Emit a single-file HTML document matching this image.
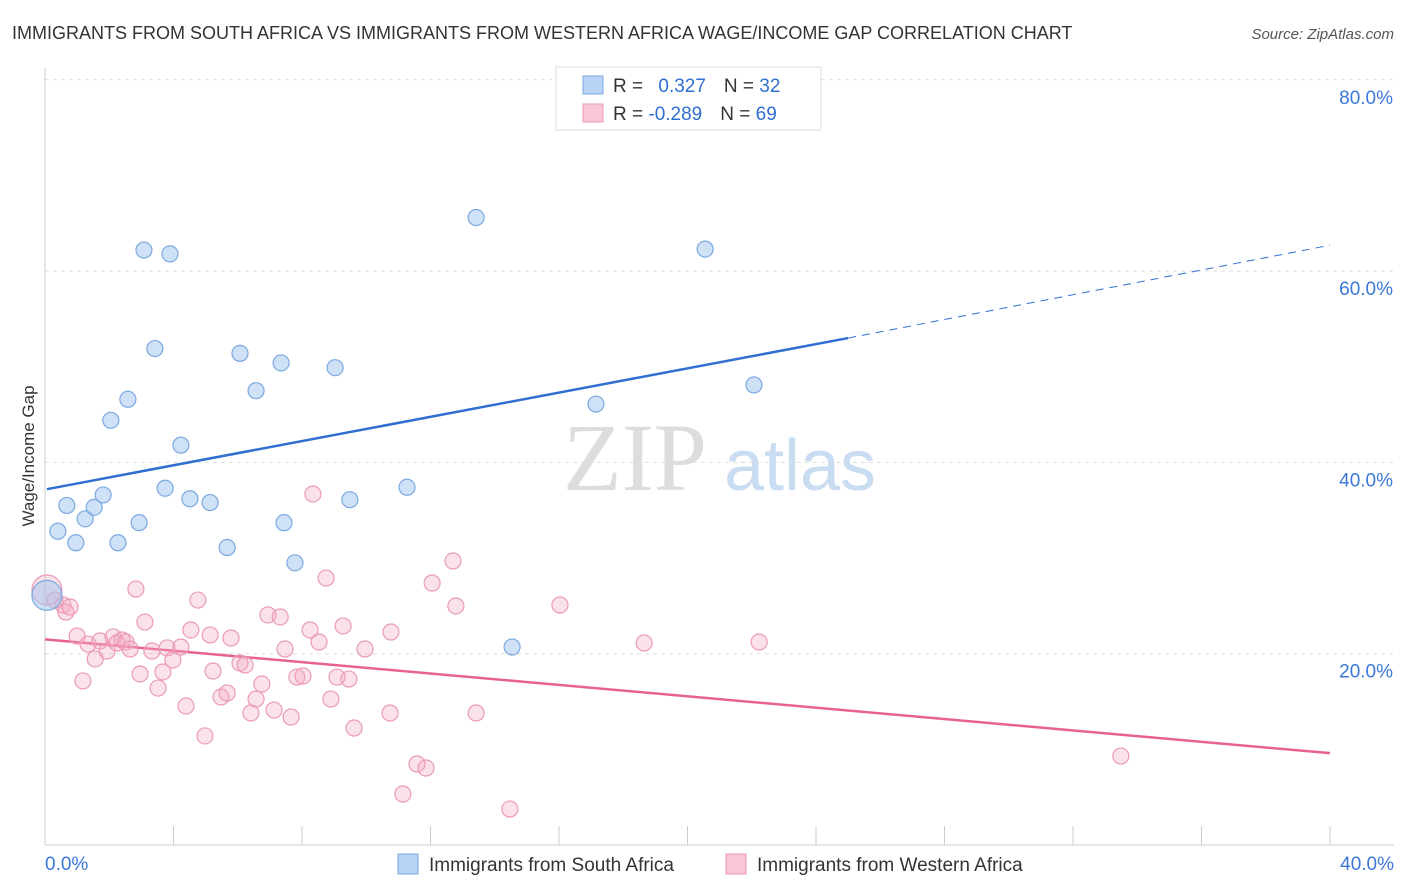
<!DOCTYPE html>
<html><head><meta charset="utf-8"><style>
body{margin:0;background:#fff;font-family:"Liberation Sans",sans-serif;}
svg{display:block}
</style></head><body>
<svg width="1406" height="892" viewBox="0 0 1406 892" xmlns="http://www.w3.org/2000/svg">
<text x="12" y="39" font-size="18" fill="#333">IMMIGRANTS FROM SOUTH AFRICA VS IMMIGRANTS FROM WESTERN AFRICA WAGE/INCOME GAP CORRELATION CHART</text>
<text x="1394" y="39" font-size="15" fill="#555" font-style="italic" text-anchor="end">Source: ZipAtlas.com</text>
<g id="grid"></g>
<g>
<text x="635" y="490" font-size="96" fill="#ddd" font-family="Liberation Serif,serif" text-anchor="middle">ZIP</text>
<text x="800" y="490" font-size="72" fill="#c9dcf2" text-anchor="middle">atlas</text>
</g>
<text x="34" y="456" font-size="17" fill="#333" text-anchor="middle" transform="rotate(-90 34 456)">Wage/Income Gap</text>
<g id="axes"></g>
<g id="lines"></g>
<g id="pts"></g>
<g>
<rect x="556" y="67" width="265" height="63" fill="#fff" stroke="#ddd"/>
<rect x="583" y="76" width="20" height="18" fill="#b9d3f5" stroke="#7aa9e0"/>
<rect x="583" y="104" width="20" height="18" fill="#f9c6d6" stroke="#ec9ab5"/>
<text x="613" y="92" font-size="19" fill="#333">R = <tspan fill="#2f6fd1" dx="10">0.327</tspan><tspan dx="18" fill="#333">N = </tspan><tspan fill="#2f6fd1">32</tspan></text>
<text x="613" y="120" font-size="19" fill="#333">R = <tspan fill="#2f6fd1">-0.289</tspan><tspan dx="18" fill="#333">N = </tspan><tspan fill="#2f6fd1">69</tspan></text>
</g>
<g>
<rect x="398" y="854" width="20" height="20" fill="#b9d3f5" stroke="#7aa9e0"/>
<text x="429" y="871" font-size="19" fill="#333">Immigrants from South Africa</text>
<rect x="726" y="854" width="20" height="20" fill="#f9c6d6" stroke="#ec9ab5"/>
<text x="757" y="871" font-size="19" fill="#333">Immigrants from Western Africa</text>
</g>
</svg>
<script>
const blueX=[0.06,0.4,0.68,0.96,1.25,1.53,1.81,2.05,2.27,2.58,2.93,3.08,3.42,3.74,3.89,4.23,4.51,5.14,5.67,6.07,6.57,7.35,7.44,7.78,9.03,9.49,11.27,13.42,14.54,17.15,20.55,22.07];
const blueY=[26.1,32.8,35.5,31.6,34.1,35.3,36.6,44.4,31.6,46.6,33.7,62.2,51.9,37.3,61.8,41.8,36.2,35.8,31.1,51.4,47.5,50.4,33.7,29.5,49.9,36.1,37.4,65.6,20.7,46.1,62.3,48.1];
const pinkPx=[[47,590],[55,600],[63,605],[66,612],[70,607],[77,636],[83,681],[88,644],[95,659],[100,641],[107,651],[113,637],[117,643],[122,640],[126,642],[130,649],[136,589],[140,674],[145,622],[152,651],[158,688],[163,672],[167,648],[173,660],[181,647],[186,706],[191,630],[198,600],[205,736],[210,635],[213,671],[221,697],[227,693],[231,638],[240,663],[245,665],[251,713],[256,699],[262,684],[268,615],[274,710],[280,617],[285,649],[291,717],[297,677],[303,676],[310,630],[313,494],[319,642],[326,578],[331,699],[337,677],[343,626],[349,679],[354,728],[365,649],[390,713],[391,632],[403,794],[417,764],[426,768],[432,583],[453,561],[456,606],[476,713],[510,809],[560,605],[644,643],[759,642],[1121,756]];
const pinkX=pinkPx.map(p=>+((p[0]-45)/32.125).toFixed(2));
const pinkY=pinkPx.map(p=>+((845-p[1])/9.565).toFixed(2));
const yTicks=[20,40,60,80];
const yTickLabels=["20.0%","40.0%","60.0%","80.0%"];
const xTicks=[0,4,8,12,16,20,24,28,32,36,40];
const blueTrend=[[0.06,37.2],[25,53.0],[40,62.7]];
const pinkTrend=[[0,21.5],[40,9.6]];
const X=v=>45+v*32.125, Y=v=>845-v*9.565;
const NS="http://www.w3.org/2000/svg";
function mk(t,a,p){const e=document.createElementNS(NS,t);for(const k in a)e.setAttribute(k,a[k]);p.appendChild(e);return e;}
const grid=document.getElementById('grid'),axes=document.getElementById('axes'),lines=document.getElementById('lines'),pts=document.getElementById('pts');
yTicks.forEach((v,i)=>{
 const l=mk('line',{x1:45,x2:1394,y1:Y(v),y2:Y(v),stroke:'#ddd','stroke-dasharray':'4 4'},grid);
 
 
 const t=mk('text',{x:1393,y:Y(v)+24,'font-size':19,fill:'#3b78d8','text-anchor':'end'},axes);
 t.textContent=yTickLabels[i];
 
 
});
mk('line',{x1:45,x2:45,y1:68,y2:845,stroke:'#ccc'},axes);
mk('line',{x1:45,x2:1394,y1:845,y2:845,stroke:'#ccc'},axes);
xTicks.forEach(v=>{const t=mk('line',{x1:X(v),x2:X(v),y1:826,y2:845,stroke:'#ccc'},axes);
 
 });
let t0=mk('text',{x:45,y:870,'font-size':19,fill:'#3b78d8'},axes);t0.textContent='0.0%';


let t1=mk('text',{x:1394,y:870,'font-size':19,fill:'#3b78d8','text-anchor':'end'},axes);t1.textContent='40.0%';


let bl=mk('line',{x1:X(blueTrend[0][0]),y1:Y(blueTrend[0][1]),x2:X(blueTrend[1][0]),y2:Y(blueTrend[1][1]),stroke:'#2f6fd1','stroke-width':2.5},lines);


let bd=mk('line',{x1:X(blueTrend[1][0]),y1:Y(blueTrend[1][1]),x2:X(blueTrend[2][0]),y2:Y(blueTrend[2][1]),stroke:'#2f6fd1','stroke-width':1,'stroke-dasharray':'8 6'},lines);


let pl=mk('line',{x1:X(pinkTrend[0][0]),y1:Y(pinkTrend[0][1]),x2:X(pinkTrend[1][0]),y2:Y(pinkTrend[1][1]),stroke:'#e8628f','stroke-width':2.5},lines);


pinkX.forEach((v,i)=>{const c=mk('circle',{cx:X(v),cy:Y(pinkY[i]),r:i==0?15:8,fill:'rgba(244,170,195,0.35)',stroke:'#ec9ab5','stroke-width':1.2},pts);
 
 });
blueX.forEach((v,i)=>{const c=mk('circle',{cx:X(v),cy:Y(blueY[i]),r:i==0?15:8,fill:'rgba(160,196,240,0.5)',stroke:'#7aa9e0','stroke-width':1.2},pts);
 
 });
</script>
</body></html>
